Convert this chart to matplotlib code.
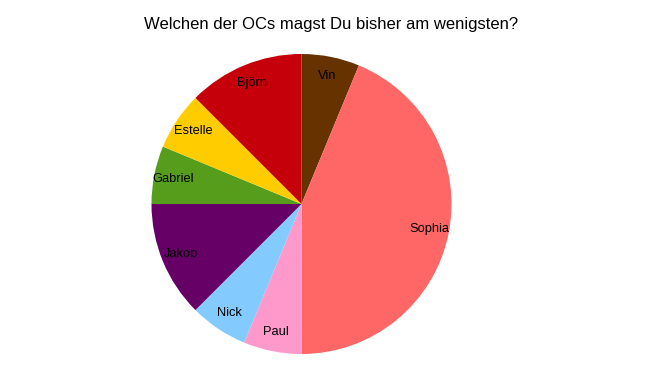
import matplotlib.pyplot as plt

# Daten (im Uhrzeigersinn ab 12 Uhr)
namen = ["Vin", "Sophia", "Paul", "Nick", "Jakob", "Gabriel", "Estelle", "Björn"]
stimmen = [1, 7, 1, 1, 2, 1, 1, 2]
farben = ["#663300", "#FF6666", "#FF99CC", "#83CAFF", "#660066", "#579D1C", "#FFCC00", "#C5000B"]

plt.rcParams['font.family'] = ['Liberation Sans', 'DejaVu Sans']

fig = plt.figure(figsize=(6.61, 3.80), dpi=100)
W, H = 661, 380
cx, cy, r = 301.5, 204, 150
ax = fig.add_axes([(cx - r) / W, (H - cy - r) / H, 2 * r / W, 2 * r / H])

wedges, texts = ax.pie(stimmen, labels=namen, colors=farben, startangle=90,
                       counterclock=False, labeldistance=0.87,
                       textprops={'fontsize': 9.3, 'color': 'black'},
                       wedgeprops={'linewidth': 0})
for t in texts:
    t.set_horizontalalignment('center')
    t.set_verticalalignment('center')
ax.set_xlim(-1, 1)
ax.set_ylim(-1, 1)
ax.set_aspect('equal')
ax.axis('off')

fig.text(331 / W, 1 - 25 / H, "Welchen der OCs magst Du bisher am wenigsten?",
         ha='center', va='center', fontsize=12)

fig.savefig("out.png", dpi=100, facecolor='white')
